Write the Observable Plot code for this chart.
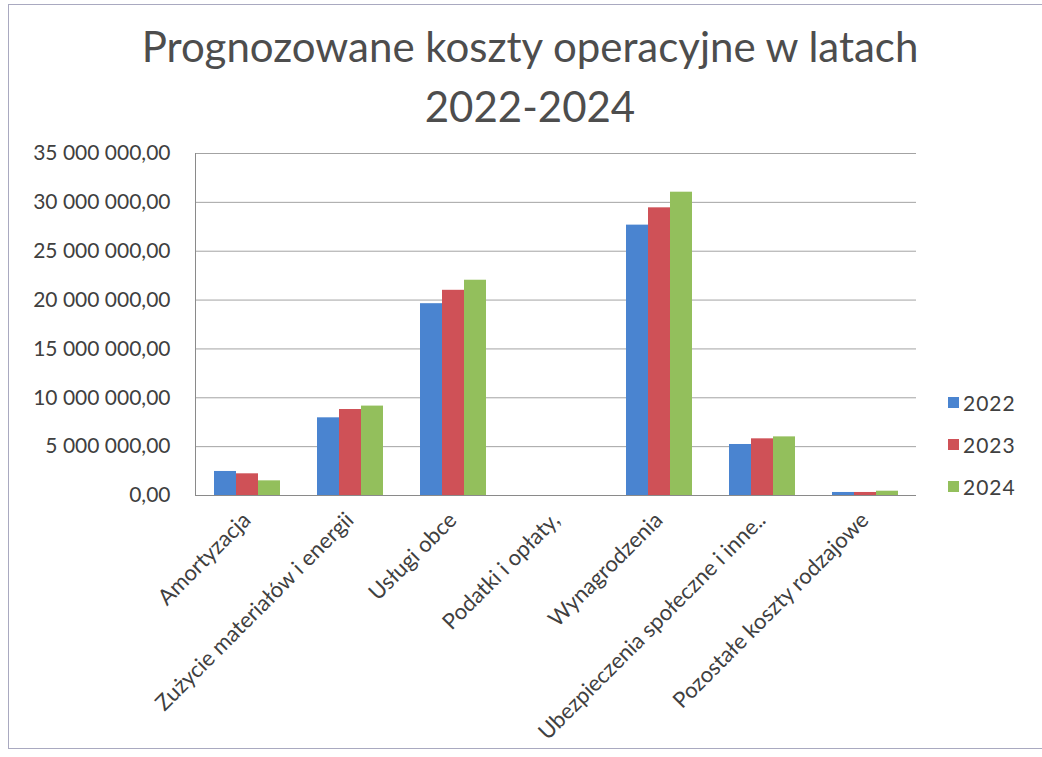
<!DOCTYPE html>
<html><head><meta charset="utf-8">
<script src="https://cdn.jsdelivr.net/npm/d3@7"></script>
<script src="https://cdn.jsdelivr.net/npm/@observablehq/plot@0.6"></script>
<style>
body{margin:0;width:1042px;height:757px;overflow:hidden;background:#fff;font-family:Lato,sans-serif;position:relative}
#frame{position:absolute;left:8px;top:4px;width:1100px;height:743px;border:1px solid #a9a9c0;pointer-events:none}
#title{height:140px;box-sizing:border-box;padding-top:16px;padding-left:18px;text-align:center;font-size:42px;line-height:60px;color:#4d4d4d}
#chart svg{display:block}
#legend{position:absolute;left:948px;top:381px;font-size:21px;color:#404040;letter-spacing:1px}
#legend .row{height:42px;display:flex;align-items:center}
#legend .sw{width:11px;height:11px;margin-right:4px}
</style></head>
<body>
<div id="frame"></div>
<div id="title">Prognozowane koszty operacyjne w latach<br>2022-2024</div>
<div id="chart"></div>
<div id="legend"></div>
<script>
const categories = ["Amortyzacja","Zużycie materiałów i energii","Usługi obce","Podatki i opłaty,","Wynagrodzenia","Ubezpieczenia społeczne i inne..","Pozostałe koszty rodzajowe"];
const years = ["2022","2023","2024"];
const values2022 = [2460000, 7950000, 19630000, 0, 27670000, 5220000, 310000];
const values2023 = [2220000, 8800000, 21000000, 0, 29440000, 5800000, 310000];
const values2024 = [1500000, 9150000, 22030000, 0, 31040000, 6000000, 440000];
const yTicks = [0, 5000000, 10000000, 15000000, 20000000, 25000000, 30000000, 35000000];
const colors = ["#4a84d0", "#cf5157", "#93bf5c"];

const series = [values2022, values2023, values2024];
const data = [];
categories.forEach((c, i) => years.forEach((y, j) => data.push({category: c, year: y, value: series[j][i]})));

const loc = d3.formatLocale({decimal: ",", thousands: " ", grouping: [3], currency: ["", ""]});
const fmt = loc.format(",.2f");

const chart = Plot.plot({
  width: 1042, height: 617,
  marginTop: 13, marginBottom: 262, marginLeft: 193, marginRight: 124,
  style: {fontFamily: "Lato, sans-serif", fontSize: "18px", color: "#404040", background: "transparent", overflow: "visible"},
  fx: {domain: categories, paddingInner: 0, paddingOuter: 0, label: null},
  x: {domain: years, paddingInner: 0, paddingOuter: 0.75, axis: null},
  y: {domain: [0, 35000000], label: null},
  color: {domain: years, range: colors},
  marks: [
    Plot.gridY({ticks: yTicks, stroke: "#a3a3a3", strokeOpacity: 1}),
    Plot.barY(data, {fx: "category", x: "year", y: "value", fill: "year"}),
    Plot.ruleY([0], {stroke: "#8a8a8a"}),
    Plot.axisY({ticks: yTicks, tickSize: 0, tickPadding: 25, tickFormat: fmt, fontSize: 21, label: null}),
    Plot.axisFx({anchor: "bottom", tickRotate: -45, tickSize: 0, tickPadding: 21, fontSize: 22, label: null}),
    Plot.frame({anchor: "left", fx: () => categories[0], stroke: "#8a8a8a"})
  ]
});
document.getElementById("chart").appendChild(chart);

const legend = d3.select("#legend");
years.forEach((y, i) => {
  const row = legend.append("div").attr("class", "row");
  row.append("div").attr("class", "sw").style("background", colors[i]);
  row.append("span").text(y);
});
</script>
</body></html>
